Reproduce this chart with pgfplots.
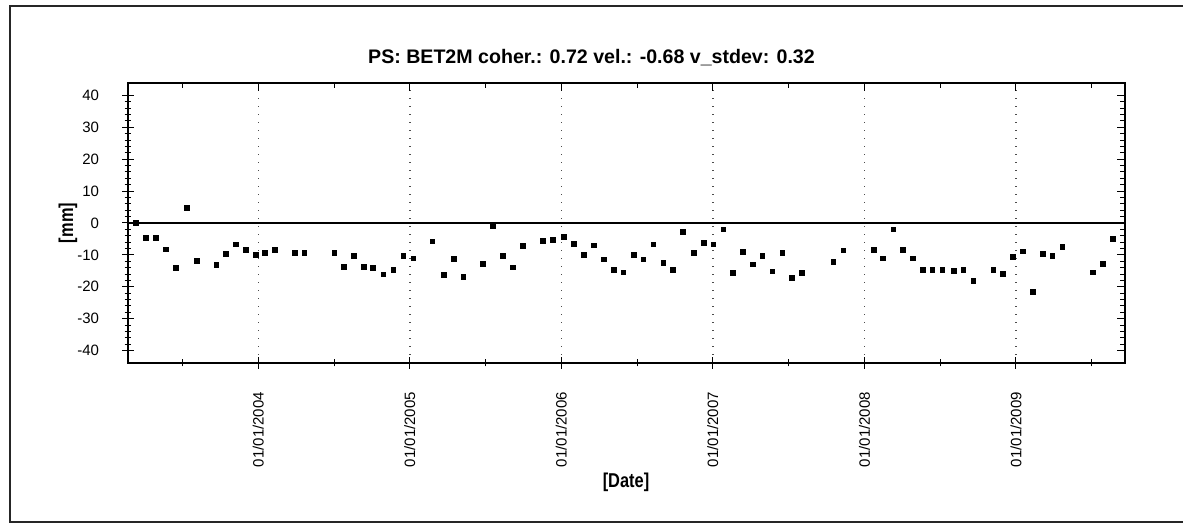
\documentclass[border=0pt]{standalone}
\usepackage{pgfplots}
\pgfplotsset{compat=1.18}
\usepackage{fontspec}
\setmainfont{Liberation Sans}
\begin{document}
\begin{tikzpicture}
\useasboundingbox (0,0) rectangle (591.5pt,262pt);
\draw[line width=1pt,black!85] (591.5pt,259pt) -- (5pt,259pt) -- (5pt,1pt) -- (591.5pt,1pt);
\node[font=\bfseries\fontsize{9.8}{11}\selectfont] at (295.75pt,233pt) {PS: BET2M coher.: 0.72 vel.: -0.68 v\_stdev: 0.32};
\pgfplotsset{
  myframe/.style={
    at={(64pt,80.5pt)}, anchor=south west,
    scale only axis, width=498.5pt, height=140pt,
    xmin=2003.14, xmax=2009.72, ymin=-43.9, ymax=43.9,
    axis line style={line width=0.7pt},
    major tick length=6pt, minor tick length=3.5pt,
    tick style={line width=0.5pt,black},
    xtick={2004,2005,2006,2007,2008,2009},
    minor xtick={2003.5,2004.5,2005.5,2006.5,2007.5,2008.5,2009.5},
    ytick={-40,-30,...,40},
    minor y tick num=4,
  }
}
\begin{axis}[
  myframe,
  xtick pos=bottom, ytick pos=left,
  tick align=center,
  xticklabels={01/01/2004,01/01/2005,01/01/2006,01/01/2007,01/01/2008,01/01/2009},
  xmajorgrids,
  major grid style={black!70, line width=0.7pt, dash pattern=on 0.6pt off 3.4pt},
  /pgf/number format/assume math mode=true,
  ticklabel style={font=\fontsize{7.5}{9}\selectfont},
  xticklabel style={rotate=90, anchor=east},
  xticklabel shift=8pt,
  yticklabel shift=8pt,
  clip=false,
]
\addplot[black, line width=1pt, no marks] coordinates {(2003.14,0) (2009.72,0)};
\addplot[only marks, mark=square*, mark size=1.2pt, black] table {
x y
2003.193 0.0
2003.259 -4.7
2003.325 -4.7
2003.389 -8.3
2003.455 -14.0
2003.527 4.8
2003.593 -11.8
2003.723 -13.2
2003.787 -9.7
2003.853 -6.7
2003.919 -8.4
2003.983 -10.1
2004.046 -9.3
2004.112 -8.4
2004.240 -9.3
2004.304 -9.3
2004.502 -9.3
2004.566 -13.8
2004.632 -10.2
2004.696 -13.8
2004.757 -14.2
2004.825 -16.1
2004.891 -14.7
2004.957 -10.2
2005.023 -11.1
2005.149 -5.8
2005.224 -16.4
2005.290 -11.2
2005.353 -16.9
2005.483 -12.9
2005.547 -0.8
2005.615 -10.3
2005.679 -13.9
2005.745 -7.2
2005.877 -5.7
2005.943 -5.2
2006.018 -4.3
2006.084 -6.5
2006.148 -10.1
2006.214 -7.0
2006.280 -11.4
2006.346 -14.8
2006.409 -15.5
2006.478 -10.1
2006.541 -11.4
2006.607 -6.7
2006.673 -12.4
2006.737 -14.6
2006.803 -2.7
2006.876 -9.3
2006.942 -6.3
2007.003 -6.7
2007.069 -2.0
2007.131 -15.6
2007.199 -9.0
2007.265 -13.0
2007.327 -10.3
2007.393 -15.2
2007.459 -9.5
2007.523 -17.3
2007.589 -15.7
2007.795 -12.2
2007.861 -8.6
2008.064 -8.5
2008.123 -11.1
2008.191 -2.0
2008.255 -8.4
2008.319 -11.1
2008.386 -14.6
2008.449 -14.6
2008.515 -14.6
2008.590 -15.0
2008.653 -14.6
2008.719 -18.2
2008.851 -14.6
2008.914 -16.0
2008.982 -10.7
2009.048 -8.9
2009.112 -21.7
2009.178 -9.7
2009.241 -10.2
2009.307 -7.5
2009.508 -15.5
2009.574 -12.9
2009.640 -4.9
};
\end{axis}
\begin{axis}[
  myframe,
  xtick pos=top, ytick pos=right,
  tick align=inside,
  major tick length=4pt, minor tick length=2.5pt,
  xticklabels={}, yticklabels={},
]
\end{axis}
\node[font=\bfseries\fontsize{10}{12}\selectfont, rotate=90, xscale=0.82] at (34pt,150.5pt) {[mm]};
\node[font=\bfseries\fontsize{10}{12}\selectfont, xscale=0.82] at (313pt,21pt) {[Date]};
\end{tikzpicture}
\end{document}
